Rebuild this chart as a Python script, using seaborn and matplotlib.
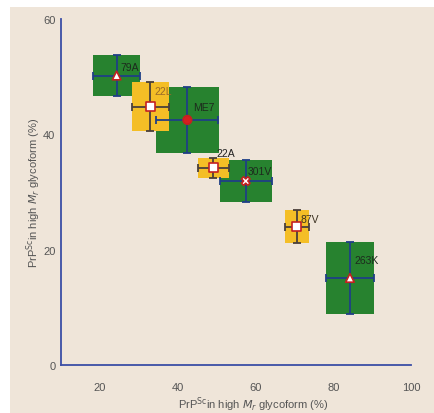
import matplotlib
matplotlib.use("Agg")
import matplotlib.pyplot as plt
import seaborn as sns
import pandas as pd
import numpy as np
from matplotlib.patches import Rectangle

strains = ["79A", "22L", "ME7", "22A", "301V", "87V", "263K"]
x_mean = [24.3, 33.0, 42.5, 49.2, 57.5, 70.6, 84.3]
x_err = [6.0, 4.7, 8.0, 4.0, 6.7, 3.1, 6.2]
y_mean = [50.2, 44.8, 42.5, 34.2, 31.9, 24.0, 15.1]
y_err = [3.6, 4.3, 5.7, 1.7, 3.6, 2.8, 6.2]
group = ["green", "yellow", "green", "yellow", "green", "yellow", "green"]
x_ticks = [20, 40, 60, 80, 100]
y_ticks = [0, 20, 40, 60]

df = pd.DataFrame({"strain": strains, "x": x_mean, "xe": x_err,
                   "y": y_mean, "ye": y_err, "group": group})

sns.set_style("white")
plt.rcParams['font.family'] = ['Liberation Sans', 'DejaVu Sans']

BG = "#efe5d9"
GREEN = "#27822f"
YELLOW = "#f4be26"
BLUE = "#3b4ea6"
box_color = {"green": GREEN, "yellow": YELLOW}
err_color = {"green": "#1f3f86", "yellow": "#4a3f3a"}

fig = plt.figure(figsize=(4.35, 4.14), dpi=100, facecolor="white")
bg = Rectangle((10 / 435, 0), 1, 1 - 8 / 414, transform=fig.transFigure,
               facecolor=BG, edgecolor="none", zorder=-10)
fig.patches.append(bg)
ax = fig.add_axes([61 / 435, 48 / 414, 350 / 435, 346 / 414])
ax.set_facecolor("none")
ax.set_zorder(5)

# boxes: green first, then yellow on top
for g, z in [("green", 2), ("yellow", 3)]:
    d = df[df.group == g]
    ax.bar(d.x, 2 * d.ye, bottom=d.y - d.ye, width=2 * d.xe,
           color=box_color[g], edgecolor="none", zorder=z)

for g in ["green", "yellow"]:
    d = df[df.group == g]
    ax.errorbar(d.x, d.y, xerr=d.xe, yerr=d.ye, fmt="none",
                ecolor=err_color[g], elinewidth=1.3, capsize=3, capthick=1.3, zorder=4)

markers = {"79A": "^", "22L": "s", "ME7": "o", "22A": "s", "301V": "X", "87V": "s", "263K": "^"}
faces = {s: "white" for s in strains}
faces["ME7"] = "#d61f1f"
sns.scatterplot(data=df, x="x", y="y", style="strain", markers=markers,
                hue="strain", palette=faces, edgecolor="#c42020", linewidth=1.2,
                s=38, legend=False, ax=ax, zorder=5)

offsets = {"79A": (4, 9), "22L": (4, 16), "ME7": (6, 13), "22A": (3, 15),
           "301V": (2, 10), "87V": (4, 8), "263K": (4, 18)}
label_col = {"79A": "#1d2a1d", "22L": "#9a6a2a", "ME7": "#1d2a1d", "22A": "#222222",
             "301V": "#1d2a1d", "87V": "#3a3020", "263K": "#1d2a1d"}
for s, xx, yy in zip(strains, x_mean, y_mean):
    ax.annotate(s, (xx, yy), xytext=offsets[s], textcoords="offset pixels",
                ha="left", va="center", fontsize=7.5, color=label_col[s], zorder=6)

ax.set_xlim(10, 100)
ax.set_ylim(0, 60)
ax.set_xticks(x_ticks)
ax.set_yticks(y_ticks)
for sp in ["top", "right"]:
    ax.spines[sp].set_visible(False)
for sp in ["left", "bottom"]:
    ax.spines[sp].set_color(BLUE)
    ax.spines[sp].set_linewidth(1.3)
ax.tick_params(axis="both", direction="in", length=5, width=1.3, color=BLUE,
               labelsize=8, labelcolor="#555555")
ax.tick_params(axis="x", pad=12)
ax.tick_params(axis="y", pad=4)

ax.set_xlabel(r"PrP$^{\mathrm{Sc}}$in high $M_r$ glycoform (%)", fontsize=8, color="#555555")
ax.set_ylabel(r"PrP$^{\mathrm{Sc}}$in high $M_r$ glycoform (%)", fontsize=8, color="#555555")
ax.xaxis.set_label_coords(0.55, -0.085)
ax.yaxis.set_label_coords(-0.05, 0.5)

fig.savefig("out.png", dpi=100, facecolor="white")
